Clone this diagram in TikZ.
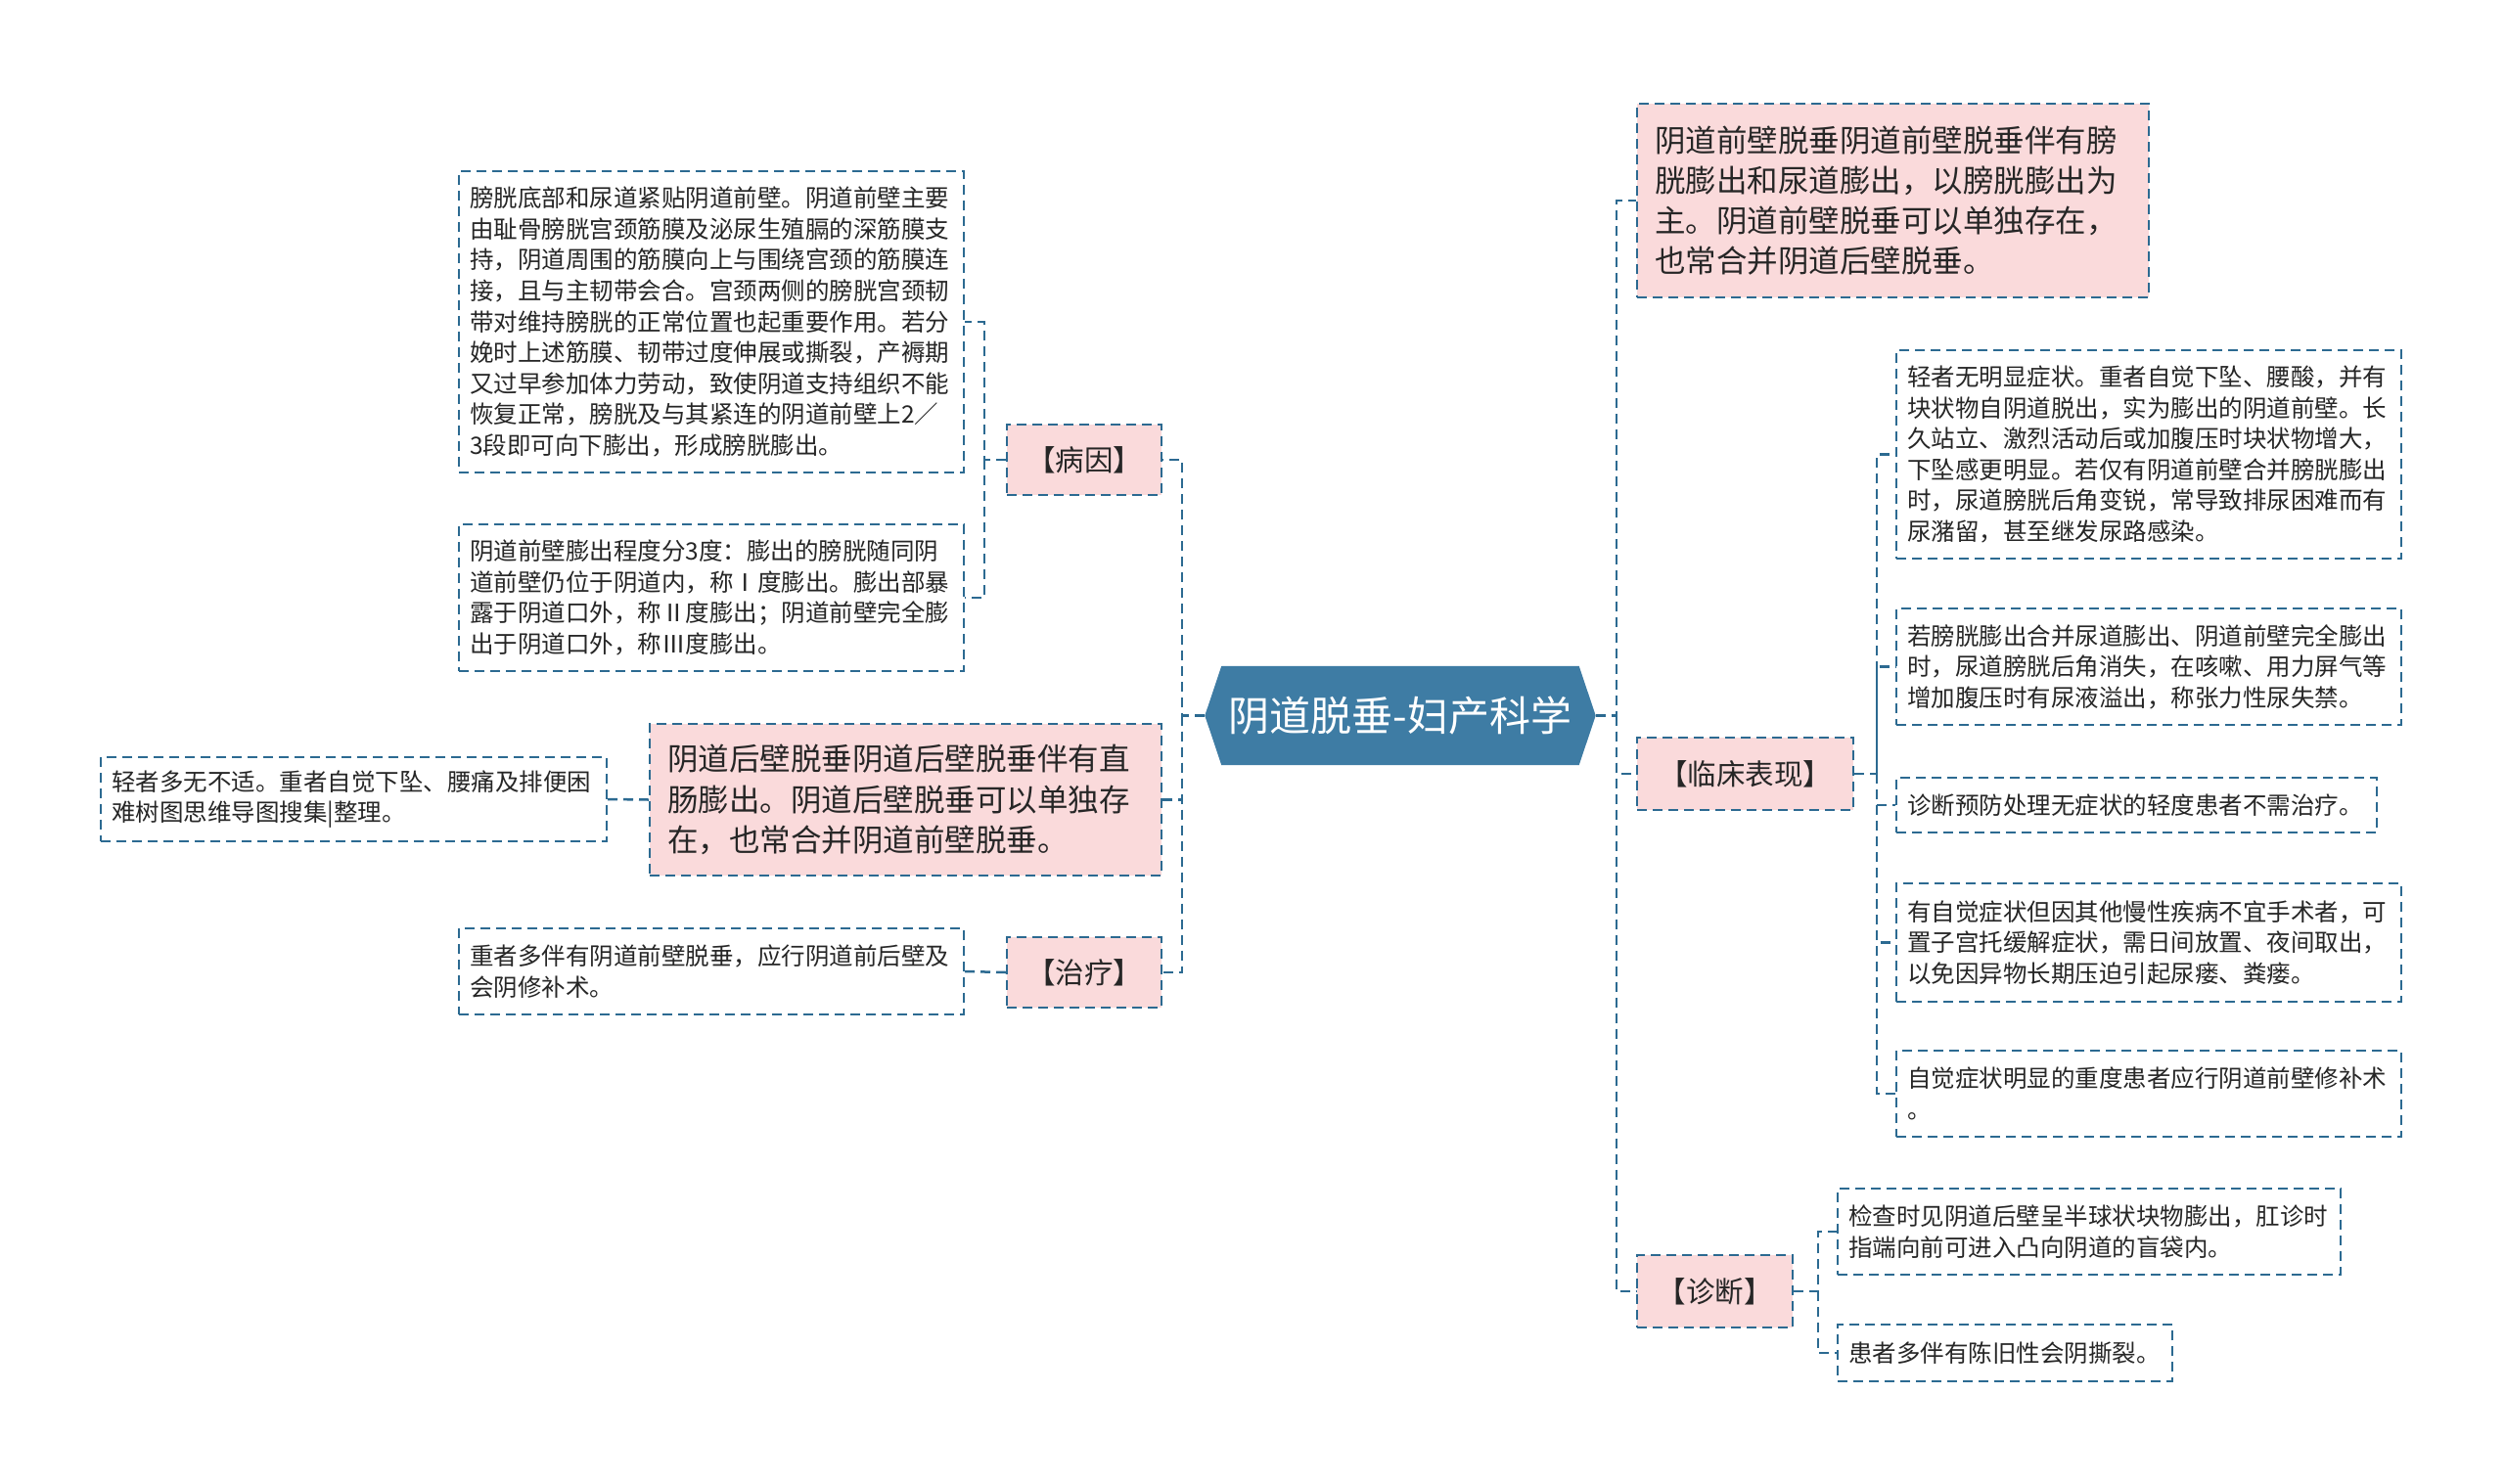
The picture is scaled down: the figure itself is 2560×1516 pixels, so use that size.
\documentclass[tikz,border=0pt]{standalone}
\usepackage{fontspec}
\setmainfont{Noto Sans CJK SC}
\usetikzlibrary{backgrounds}
\definecolor{lineblue}{HTML}{2C6A91}
\definecolor{pinkfill}{HTML}{FADADB}
\definecolor{hexblue}{HTML}{3E7CA4}
\definecolor{txtc}{HTML}{262626}
\tikzset{
 box/.style={draw=lineblue, dash pattern=on 10pt off 6pt, line width=2pt, align=left, text=txtc, inner xsep=11pt, inner ysep=0pt},
 leaf/.style={box, fill=white, font=\fontsize{24.5pt}{31.6pt}\selectfont},
 pinkbig/.style={box, fill=pinkfill, inner xsep=18pt, font=\fontsize{31.5pt}{41.3pt}\selectfont},
 lab/.style={box, fill=pinkfill, font=\fontsize{29.5pt}{36pt}\selectfont, align=center},
 conn/.style={draw=lineblue, line width=2.5pt, dash pattern=on 10pt off 6pt},
 hexnode/.style={inner sep=0pt, minimum width=365pt, minimum height=101pt, text=white, font=\fontsize{42pt}{48pt}\selectfont},
}
\begin{document}
\begin{tikzpicture}[x=1pt,y=-1pt]
\useasboundingbox (0,0) rectangle (2560,1516);

% central node
\node[hexnode] (hex) at (1431,731.5) {阴道脱垂-妇产科学};
\begin{scope}[on background layer]
\fill[white] (0,0) rectangle (2560,1516);
\fill[hexblue] (hex.north west) -- (hex.north east) -- ([xshift=17pt]hex.east) -- (hex.south east) -- (hex.south west) -- ([xshift=-17pt]hex.west) -- cycle;
\end{scope}
\coordinate (hexW) at ([xshift=-17pt]hex.west);
\coordinate (hexE) at ([xshift=17pt]hex.east);

% left side
\node[lab, minimum width=158pt, minimum height=72pt] (by) at (1108,470) {【病因】};
\node[leaf, text width=494pt, minimum height=308pt] (b1) at (727,329) {膀胱底部和尿道紧贴阴道前壁。阴道前壁主要\\由耻骨膀胱宫颈筋膜及泌尿生殖膈的深筋膜支\\持，阴道周围的筋膜向上与围绕宫颈的筋膜连\\接，且与主韧带会合。宫颈两侧的膀胱宫颈韧\\带对维持膀胱的正常位置也起重要作用。若分\\娩时上述筋膜、韧带过度伸展或撕裂，产褥期\\又过早参加体力劳动，致使阴道支持组织不能\\恢复正常，膀胱及与其紧连的阴道前壁上2／\\3段即可向下膨出，形成膀胱膨出。};
\node[leaf, text width=494pt, minimum height=150pt] (b2) at (727,611) {阴道前壁膨出程度分3度：膨出的膀胱随同阴\\道前壁仍位于阴道内，称Ⅰ度膨出。膨出部暴\\露于阴道口外，称Ⅱ度膨出；阴道前壁完全膨\\出于阴道口外，称Ⅲ度膨出。};
\node[pinkbig, text width=487pt, minimum height=155pt] (hb) at (925.5,817.5) {阴道后壁脱垂阴道后壁脱垂伴有直\\肠膨出。阴道后壁脱垂可以单独存\\在，也常合并阴道前壁脱垂。};
\node[leaf, text width=495pt, minimum height=86pt] (hb1) at (361.5,817) {轻者多无不适。重者自觉下坠、腰痛及排便困\\难树图思维导图搜集|整理。};
\node[lab, minimum width=158pt, minimum height=72pt] (zl) at (1108,994) {【治疗】};
\node[leaf, text width=494pt, minimum height=88pt] (zl1) at (727,993) {重者多伴有阴道前壁脱垂，应行阴道前后壁及\\会阴修补术。};

% right side
\node[pinkbig, text width=487pt, minimum height=198pt] (qb) at (1934.5,205) {阴道前壁脱垂阴道前壁脱垂伴有膀\\胱膨出和尿道膨出，以膀胱膨出为\\主。阴道前壁脱垂可以单独存在，\\也常合并阴道后壁脱垂。};
\node[lab, minimum width=221pt, minimum height=74pt] (lc) at (1783.5,791) {【临床表现】};
\node[lab, minimum width=159pt, minimum height=74pt] (zd) at (1752.5,1320) {【诊断】};

\node[leaf, text width=494pt, minimum height=213pt] (c1) at (2196,464.5) {轻者无明显症状。重者自觉下坠、腰酸，并有\\块状物自阴道脱出，实为膨出的阴道前壁。长\\久站立、激烈活动后或加腹压时块状物增大，\\下坠感更明显。若仅有阴道前壁合并膀胱膨出\\时，尿道膀胱后角变锐，常导致排尿困难而有\\尿潴留，甚至继发尿路感染。};
\node[leaf, text width=494pt, minimum height=119pt] (c2) at (2196,681.5) {若膀胱膨出合并尿道膨出、阴道前壁完全膨出\\时，尿道膀胱后角消失，在咳嗽、用力屏气等\\增加腹压时有尿液溢出，称张力性尿失禁。};
\node[leaf, text width=469pt, minimum height=56pt] (c3) at (2183.5,823) {诊断预防处理无症状的轻度患者不需治疗。};
\node[leaf, text width=494pt, minimum height=121pt] (c4) at (2196,963.5) {有自觉症状但因其他慢性疾病不宜手术者，可\\置子宫托缓解症状，需日间放置、夜间取出，\\以免因异物长期压迫引起尿瘘、粪瘘。};
\node[leaf, text width=494pt, minimum height=88pt] (c5) at (2196,1118) {自觉症状明显的重度患者应行阴道前壁修补术\\。};
\node[leaf, text width=492pt, minimum height=88pt] (d1) at (2135,1259) {检查时见阴道后壁呈半球状块物膨出，肛诊时\\指端向前可进入凸向阴道的盲袋内。};
\node[leaf, text width=320pt, minimum height=58pt] (d2) at (2049,1383) {患者多伴有陈旧性会阴撕裂。};

% connectors
\coordinate (trunkL) at (1208,0);
\coordinate (bX) at (1006,0);
\coordinate (trunkR) at (1652,0);
\coordinate (lcX) at (1918,0);
\coordinate (zdX) at (1858,0);

\draw[conn] (hexW) -- (hexW -| trunkL) |- (by.east);
\draw[conn] (hexW -| trunkL) |- (hb.east);
\draw[conn] (hexW -| trunkL) |- (zl.east);
\draw[conn] (by.west) -- (by.west -| bX) |- (b1.east);
\draw[conn] (by.west -| bX) |- (b2.east);
\draw[conn] (hb.west) -- (hb1.east);
\draw[conn] (zl.west) -- (zl1.east);

\draw[conn] (hexE) -- (hexE -| trunkR) |- (qb.west);
\draw[conn] (hexE -| trunkR) |- (lc.west);
\draw[conn] (hexE -| trunkR) |- (zd.west);
\draw[conn] (lc.east) -- (lc.east -| lcX) |- (c1.west);
\draw[conn] (lc.east -| lcX) |- (c2.west);
\draw[conn] (lc.east -| lcX) |- (c3.west);
\draw[conn] (lc.east -| lcX) |- (c4.west);
\draw[conn] (lc.east -| lcX) |- (c5.west);
\draw[conn] (zd.east) -- (zd.east -| zdX) |- (d1.west);
\draw[conn] (zd.east -| zdX) |- (d2.west);
\end{tikzpicture}
\end{document}
